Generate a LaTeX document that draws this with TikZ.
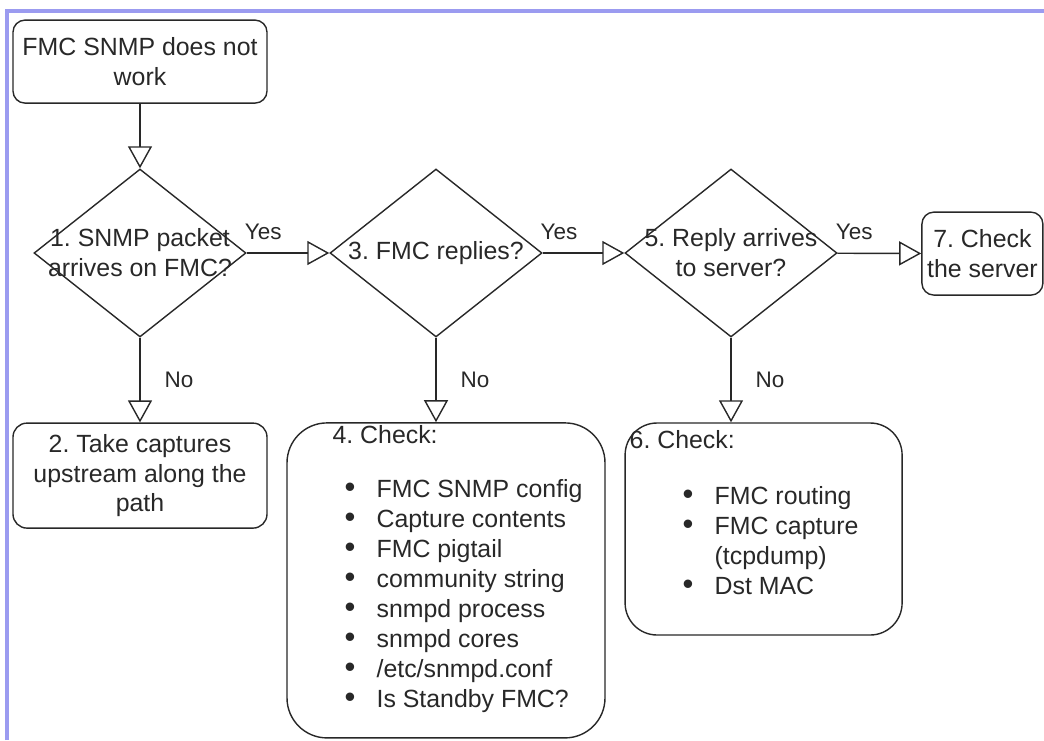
\documentclass[tikz,border=0pt]{standalone}
\usepackage{fontspec}
\setmainfont{Liberation Sans}
\usepackage{xcolor}
\usetikzlibrary{arrows.meta,positioning,shapes.geometric}
\definecolor{ink}{RGB}{40,40,40}
\definecolor{frameblue}{RGB}{155,155,240}
\frenchspacing

\begin{document}
\begin{tikzpicture}[
  >={Triangle[open,length=5.5mm,width=6mm]},
  every node/.style={font=\fontsize{17.7}{21.3}\selectfont, text=ink},
  box/.style={draw=ink, line width=1pt, rounded corners=#1, inner sep=0pt, align=center},
  dec/.style={draw=ink, line width=1pt, diamond, inner sep=0pt, minimum width=5.3cm, minimum height=4.2cm},
  rel/.style={->, draw=ink, line width=1pt},
  lab/.style={font=\fontsize{16}{19}\selectfont, inner sep=1pt},
  itm/.style={anchor=west, inner sep=0pt, text height=1.75ex, text depth=0.5ex},
  dot/.style={itm, font=\fontsize{22}{22}\selectfont}
]
\useasboundingbox (0,0) rectangle (26.1,-18.5);
\draw[frameblue, line width=2.5pt] (0.175,-18.5) -- (0.175,-0.275) -- (26.1,-0.275);

\node[box=3mm, minimum width=6.35cm, minimum height=2.075cm] (start) at (3.5,-1.54) {FMC SNMP does not\\work};
\node[dec, label={[align=center]center:{1. SNMP packet\\arrives on FMC?}}] (q1) at (3.5,-6.325) {};
\node[dec, label={[align=center]center:{3. FMC replies?}}] (q3) at (10.9,-6.325) {};
\node[dec, label={[align=center]center:{5. Reply arrives\\to server?}}] (q5) at (18.275,-6.325) {};
\node[box=3mm, minimum width=3.025cm, minimum height=2.075cm] (srv) at (24.56,-6.34) {7. Check\\the server};
\node[box=3.5mm, minimum width=6.35cm, minimum height=2.625cm] (cap) at (3.5,-11.89) {2. Take captures\\upstream along the\\path};
\node[box=10mm, minimum width=7.95cm, minimum height=7.875cm] (chk4) at (11.15,-14.51) {};
\node[box=8mm, minimum width=6.925cm, minimum height=5.3cm] (chk6) at (19.09,-13.225) {};

% list in box 4
\node[itm] (t4) at ([shift={(1.15,-0.425)}]chk4.north west) {4. Check:};
\foreach \t [count=\i from 0] in {FMC SNMP config, Capture contents, FMC pigtail, community string, snmpd process, snmpd cores, /etc/snmpd.conf, Is Standby FMC?} {
  \node[dot] (b4\i) at ([shift={(1.45,{-1.775-0.75*\i})}]chk4.north west) {\textbullet};
  \node[itm] (i4\i) at ([shift={(2.25,{-1.775-0.75*\i})}]chk4.north west) {\t};
}

% list in box 6
\node[itm] (t6) at ([shift={(0.125,-0.55)}]chk6.north west) {6. Check:};
\node[dot] (b60) at ([shift={(1.45,-1.95)}]chk6.north west) {\textbullet};
\node[itm] (i60) at ([shift={(2.25,-1.95)}]chk6.north west) {FMC routing};
\node[dot] (b61) at ([shift={(1.45,-2.7)}]chk6.north west) {\textbullet};
\node[itm] (i61) at ([shift={(2.25,-2.7)}]chk6.north west) {FMC capture};
\node[itm] (i62) at ([shift={(2.25,-3.45)}]chk6.north west) {(tcpdump)};
\node[dot] (b63) at ([shift={(1.45,-4.2)}]chk6.north west) {\textbullet};
\node[itm] (i63) at ([shift={(2.25,-4.2)}]chk6.north west) {Dst MAC};

\draw[rel] (start) -- (q1);
\draw[rel] (q1) -- node[lab, pos=0.2, above=8pt] {Yes} (q3);
\draw[rel] (q3) -- node[lab, pos=0.2, above=8pt] {Yes} (q5);
\draw[rel] (q5) -- node[lab, pos=0.2, above=8pt] {Yes} (srv);
\draw[rel] (q1) -- node[lab, right=16pt] {No} (cap);
\draw[rel] (q3.south) -- node[lab, right=16pt] {No} (q3.south |- chk4.north);
\draw[rel] (q5.south) -- node[lab, right=16pt] {No} (q5.south |- chk6.north);
\end{tikzpicture}
\end{document}
